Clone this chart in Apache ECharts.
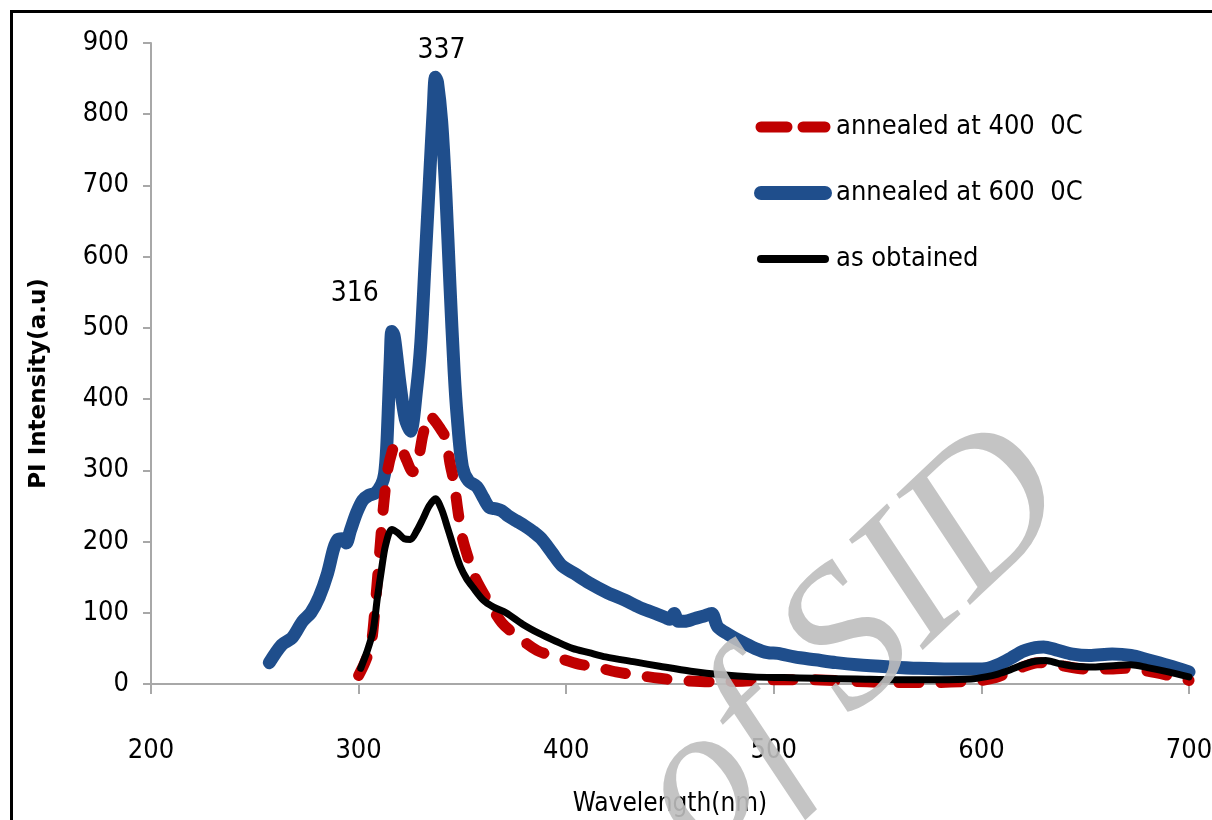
<!DOCTYPE html>
<html>
<head>
<meta charset="utf-8">
<title>PL spectra</title>
<script src="https://cdn.jsdelivr.net/npm/echarts@6/dist/echarts.min.js"></script>
<style>
  html, body { margin: 0; padding: 0; background: #fff; }
  #chart { width: 1212px; height: 820px; }
</style>
</head>
<body>
<div id="chart"></div>
<script>
// Photoluminescence spectra (wavelength in nm, intensity in a.u.)
const seriesNames = ['annealed at 400  0C', 'annealed at 600  0C', 'as obtained'];

const wl400 = [300, 303, 306, 308, 310, 312, 314, 316, 318, 320, 323, 326, 329, 331, 334, 336, 339, 342, 344, 346, 348, 350, 353, 356, 362, 369, 376, 386, 395, 406, 414, 424, 435, 445, 455, 470, 485, 500, 515, 530, 545, 560, 575, 590, 600, 607, 613, 620, 627, 633, 640, 650, 660, 670, 680, 690, 700];
const pl400 = [12, 30, 55, 110, 180, 250, 300, 325, 338, 335, 315, 298, 320, 350, 378, 372, 360, 345, 310, 282, 240, 205, 175, 150, 118, 86, 68, 47, 38, 28, 24, 17, 12, 8, 5, 3, 4, 6, 6, 5, 3, 2, 2, 3, 5, 9, 16, 24, 30, 30, 25, 21, 21, 22, 18, 12, 5];

const wl600 = [257, 263, 268, 273, 277, 281, 285, 288, 290, 292, 294, 296, 299, 302, 305, 308, 311, 312.5, 313.5, 314.5, 315.3, 316, 317, 318, 320, 322.5, 325, 328, 330, 332, 334, 336, 337, 338, 340, 342, 344, 346, 347.5, 350, 353, 357, 360, 363, 366, 369, 372, 376, 380, 384, 388, 393, 398, 404, 411, 420, 428, 435, 442, 448, 450, 452, 454, 457, 462, 466, 470, 473, 478, 484, 491, 497, 502, 510, 520, 530, 540, 556, 570, 585, 597, 603, 608, 614, 620, 626, 630, 636, 644, 652, 663, 672, 680, 690, 700];
const pl600 = [30, 55, 65, 88, 100, 122, 155, 190, 203, 204, 198, 215, 240, 258, 265, 268, 280, 295, 330, 400, 460, 495, 490, 470, 420, 372, 355, 415, 480, 590, 700, 810, 852, 845, 790, 690, 560, 440, 375, 305, 285, 277, 262, 248, 246, 243, 236, 229, 222, 214, 204, 185, 166, 155, 142, 128, 118, 108, 100, 93, 91, 99, 88, 88, 92, 95, 99, 80, 70, 60, 50, 44, 43, 38, 34, 30, 27, 24, 22, 21, 21, 22, 27, 36, 46, 51, 52, 48, 42, 40, 42, 40, 34, 26, 17];

const wlRaw = [301, 304, 307, 309, 311, 313, 316, 319, 322, 325, 328, 331, 334, 337, 340, 343, 346, 349, 352, 355, 360, 365, 371, 379, 387, 395, 403, 411, 419, 433, 445, 460, 475, 490, 505, 520, 540, 560, 580, 595, 602, 608, 614, 620, 626, 631, 637, 645, 655, 665, 672, 680, 690, 700];
const plRaw = [22, 45, 75, 120, 160, 195, 217, 212, 204, 203, 215, 232, 250, 260, 245, 218, 190, 165, 148, 136, 118, 108, 100, 84, 71, 60, 50, 44, 38, 31, 25, 18, 13, 10, 9, 8, 7, 6, 6, 7, 10, 14, 20, 27, 32, 33, 29, 25, 24, 26, 27, 23, 17, 10];

// Wavelengths of the two marked emission peaks
const peakWavelengths = [316, 337];

const xTicks = { min: 200, max: 700, interval: 100 };
const yTicks = { min: 0, max: 900, interval: 100 };

const zip = (xs, ys) => xs.map((x, i) => [x, ys[i]]);

const FONT = '"DejaVu Sans Condensed", "Liberation Sans Narrow", "Roboto Condensed", "Liberation Sans", sans-serif';

const COLORS = ['#c00000', '#1f4e8c', '#000000'];
const LINE_WIDTHS = [11, 13, 7];
const DASH = [20, 22];

const peakLabelOffsets = [[-37, -38], [6, -26]];
const peakMarks = peakWavelengths.map((w, i) => {
  const idx = wl600.indexOf(w);
  return {
    coord: [w, pl600[idx]],
    value: w,
    label: { offset: peakLabelOffsets[i] }
  };
});

// legend swatches: plain thick strokes, no marker dot
const legendLines = [
  { width: 11, type: [26, 16], cap: 'round' },
  { width: 14, type: 'solid', cap: 'round' },
  { width: 8, type: 'solid', cap: 'round' }
];

const chart = echarts.init(document.getElementById('chart'), null, { renderer: 'canvas' });

chart.setOption({
  backgroundColor: '#ffffff',
  animation: false,
  grid: { left: 151, right: 23, top: 43, bottom: 136, containLabel: false, outerBoundsMode: 'none' },
  legend: {
    orient: 'vertical',
    left: 749,
    top: 107,
    itemWidth: 64,
    itemHeight: 14,
    itemGap: 36,
    data: seriesNames.map((n, i) => ({
      name: n,
      lineStyle: legendLines[i],
      itemStyle: { opacity: 0, color: 'rgba(0,0,0,0)', borderWidth: 0 }
    })),
    textStyle: { fontFamily: FONT, fontSize: 27, color: '#000', lineHeight: 30, padding: [0, 0, 0, 6] }
  },
  xAxis: {
    type: 'value',
    min: xTicks.min, max: xTicks.max, interval: xTicks.interval,
    name: 'Wavelength(nm)',
    nameLocation: 'middle',
    nameGap: 107,
    nameTextStyle: { fontFamily: FONT, fontSize: 26, color: '#000' },
    axisLine: { onZero: false, lineStyle: { color: '#a8a8a8', width: 2 } },
    axisTick: { show: true, length: 10, lineStyle: { color: '#a8a8a8', width: 2 } },
    axisLabel: { margin: 53, fontFamily: FONT, fontSize: 27, color: '#000' },
    splitLine: { show: false }
  },
  yAxis: {
    type: 'value',
    min: yTicks.min, max: yTicks.max, interval: yTicks.interval,
    name: 'PI Intensity(a.u)',
    nameLocation: 'middle',
    nameGap: 100,
    nameTextStyle: { fontFamily: '"DejaVu Sans", sans-serif', fontWeight: 'bold', fontSize: 23, color: '#000', padding: [0, 40, 0, 0] },
    axisLine: { show: true, lineStyle: { color: '#a8a8a8', width: 2 } },
    axisTick: { show: true, length: 8, lineStyle: { color: '#a8a8a8', width: 2 } },
    axisLabel: { margin: 22, fontFamily: FONT, fontSize: 27, color: '#000' },
    splitLine: { show: false }
  },
  series: [
    {
      name: seriesNames[0],
      type: 'line',
      data: zip(wl400, pl400),
      symbol: 'none',
      smooth: 0.3,
      z: 3,
      color: COLORS[0],
      lineStyle: { color: COLORS[0], width: LINE_WIDTHS[0], type: DASH, cap: 'round', join: 'round' }
    },
    {
      name: seriesNames[1],
      type: 'line',
      data: zip(wl600, pl600),
      symbol: 'none',
      smooth: 0.3,
      z: 2,
      color: COLORS[1],
      lineStyle: { color: COLORS[1], width: LINE_WIDTHS[1], cap: 'round', join: 'round' },
      markPoint: {
        symbol: 'circle',
        symbolSize: 0,
        silent: true,
        label: {
          show: true,
          position: 'inside',
          formatter: p => String(p.value),
          fontFamily: FONT,
          fontSize: 28,
          color: '#000'
        },
        data: peakMarks
      }
    },
    {
      name: seriesNames[2],
      type: 'line',
      data: zip(wlRaw, plRaw),
      symbol: 'none',
      smooth: 0.3,
      z: 4,
      color: COLORS[2],
      lineStyle: { color: COLORS[2], width: LINE_WIDTHS[2], cap: 'round', join: 'round' }
    }
  ],
  graphic: [
    {
      type: 'rect',
      z: 200,
      silent: true,
      shape: { x: 11.5, y: 11.5, width: 1400, height: 1000 },
      style: { fill: null, stroke: '#000', lineWidth: 3 }
    },
    {
      type: 'text',
      z: 150,
      silent: true,
      x: 1040,
      y: 466,
      rotation: 0.76,
      style: {
        text: 'Archive of SID',
        fontFamily: '"Liberation Serif", serif',
        fontStyle: 'italic',
        fontWeight: 'normal',
        fontSize: 200,
        fill: 'rgba(190,190,190,0.9)',
        align: 'right',
        verticalAlign: 'middle'
      }
    }
  ]
});
</script>
</body>
</html>
